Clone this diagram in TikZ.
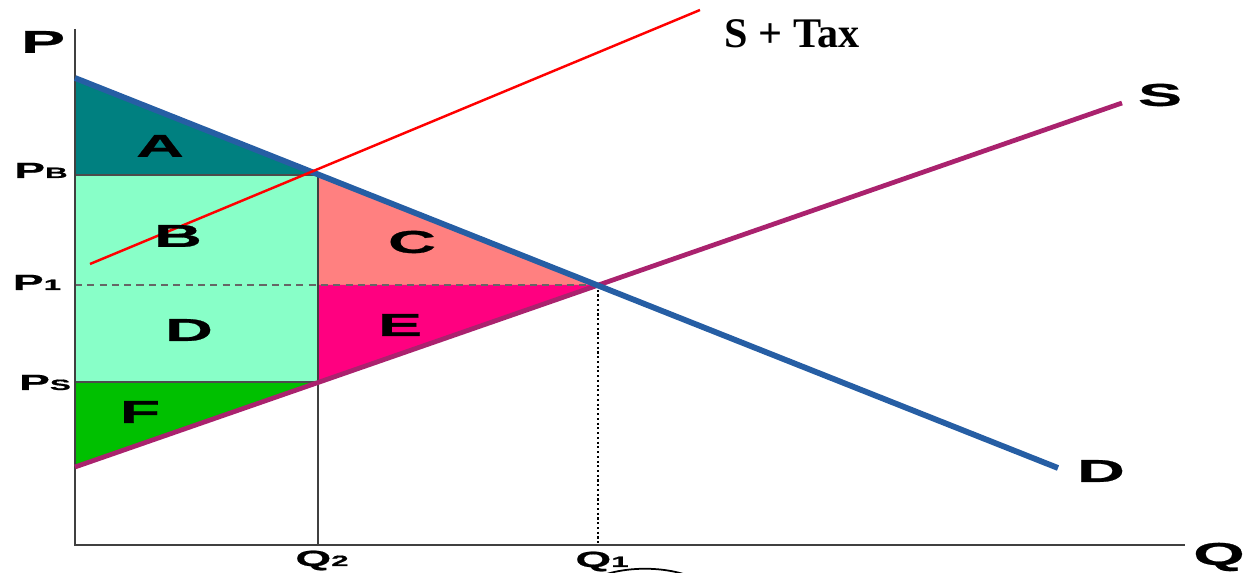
\documentclass[tikz,border=0pt]{standalone}
\usepackage{fontspec}
\setmainfont{Liberation Sans}
\newfontfamily\widefont{Liberation Sans}[FakeStretch=2.1, FakeBold=0.8]
\newfontfamily\taxfont{Liberation Serif}
\usepackage{tikz}
\usetikzlibrary{arrows.meta,positioning}

\definecolor{demandblue}{RGB}{38,94,164}
\definecolor{supplyplum}{RGB}{170,34,110}
\definecolor{tealA}{RGB}{0,128,128}
\definecolor{mintBD}{RGB}{136,255,200}
\definecolor{salmonC}{RGB}{255,128,128}
\definecolor{pinkE}{RGB}{255,0,128}
\definecolor{greenF}{RGB}{0,192,0}

\newcommand{\subtxt}[1]{{\fontsize{8.5}{9}\selectfont #1}}

\begin{document}
\begin{tikzpicture}[
    x=0.02cm, y=-0.02cm,
    axis/.style={draw=black!75, line width=0.8pt},
    guide/.style={draw=black!70, line width=0.6pt},
    demand/.style={draw=demandblue, line width=3.3pt},
    supply/.style={draw=supplyplum, line width=2.7pt},
    taxline/.style={draw=red, line width=1.4pt},
    big/.style={font=\widefont\bfseries\fontsize{18}{20}\selectfont, inner sep=0pt},
    small/.style={font=\widefont\bfseries\fontsize{12.5}{14}\selectfont, inner sep=0pt, anchor=base}
]
\useasboundingbox (0,0) rectangle (1255,573);

% points of the diagram
\coordinate (O) at (75,545);
\coordinate (ytop) at (75,29);
\coordinate (xend) at (1185,545);
\coordinate (dtop) at (75,78);
\coordinate (dend) at (1058,468);
\coordinate (sbot) at (75,467);
\coordinate (send) at (1122,103);
\coordinate (tbot) at (90,264);
\coordinate (tend) at (700,10);
\coordinate (pb) at (75,175);
\coordinate (pbq) at (318,175);
\coordinate (p1) at (75,285);
\coordinate (p1q) at (318,285);
\coordinate (eq) at (598,285);
\coordinate (ps) at (75,382);
\coordinate (psq) at (318,382);
\coordinate (q2) at (318,545);
\coordinate (q1) at (598,545);
\coordinate (arcL) at (598,577);
\coordinate (arcR) at (692,577);

% areas
\fill[tealA] (dtop) -- (pbq) -- (pb) -- cycle;
\fill[mintBD] (pb) rectangle (psq);
\fill[salmonC] (pbq) -- (eq) -- (p1q) -- cycle;
\fill[pinkE] (p1q) -- (eq) -- (psq) -- cycle;
\fill[greenF] (ps) -- (psq) -- (sbot) -- cycle;

% guide lines
\draw[guide] (pb) -- (pbq);
\draw[guide] (ps) -- (psq);
\draw[draw=black!60, line width=0.6pt, dash pattern=on 4pt off 3pt] (p1) -- (eq);
\draw[line width=1.1pt, dash pattern=on 1.2pt off 1.5pt] (eq) -- (q1);
\draw[axis] (pbq) -- (q2);
\draw[axis] (ytop) -- (O) -- (xend);

% curves
\draw[supply] (sbot) -- (send);
\draw[demand] (dtop) -- (dend);
\draw[taxline] (tbot) -- (tend);
\draw[line width=1pt] (arcL) .. controls (625,566) and (665,566) .. (arcR);

% labels
\node[big] (plbl) at (43,42) {P};
\node[big] (qlbl) at (1219,557) {Q};
\node[big] (slbl) at (1160,95) {S};
\node[big] (dlbl) at (1101,471) {D};
\node[font=\taxfont\bfseries\fontsize{24}{26}\selectfont, inner sep=0pt] (taxlbl) at (792,34) {S + Tax};

\node[small] (pblbl) at (41,178) {P\subtxt{B}};
\node[small] (p1lbl) at (37,290) {P\subtxt{1}};
\node[small] (pslbl) at (45,390) {P\subtxt{S}};
\node[small] (q2lbl) at (322,566) {Q\subtxt{2}};
\node[small] (q1lbl) at (602,567) {Q\subtxt{1}};

\node[big] (albl) at (160,146) {A};
\node[big] (blbl) at (178,236) {B};
\node[big] (clbl) at (412,242) {C};
\node[big] (dalbl) at (189,330) {D};
\node[big] (elbl) at (400,325) {E};
\node[big] (flbl) at (140,412) {F};
\end{tikzpicture}
\end{document}
